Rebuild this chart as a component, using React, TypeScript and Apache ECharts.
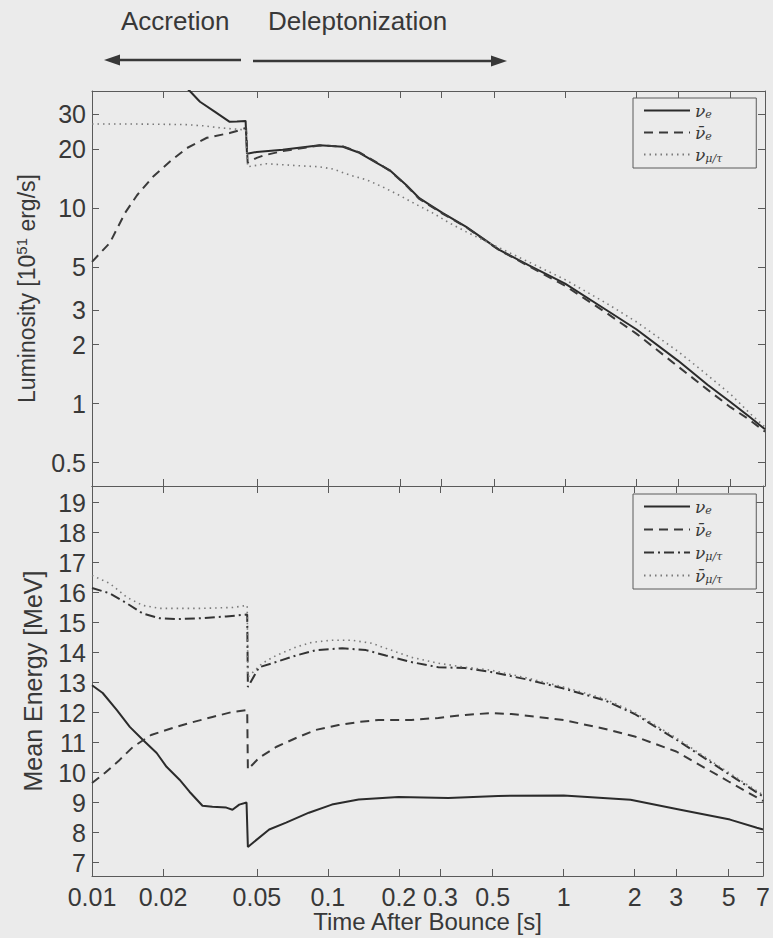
import React, { useEffect, useRef } from "react";
import * as echarts from "echarts";

// ---- axis ticks ----
const xTicks = [0.01, 0.02, 0.05, 0.1, 0.2, 0.3, 0.5, 1, 2, 3, 5, 7];
const lumTicks = [0.5, 1, 2, 3, 5, 10, 20, 30];
const energyTicks = [7, 8, 9, 10, 11, 12, 13, 14, 15, 16, 17, 18, 19];

// ---- luminosity [10^51 erg/s] vs time [s] ----
const lumNue: [number, number][] = [
  [0.0245, 42], [0.0259, 39.5], [0.0286, 34.8], [0.033, 31.0], [0.0382, 27.5], [0.041, 27.6],
  [0.0446, 27.8], [0.0452, 18.9], [0.0497, 19.3], [0.064, 19.8], [0.0916, 20.9], [0.115, 20.5],
  [0.135, 19.1], [0.159, 17.0], [0.181, 15.6], [0.213, 13.1], [0.242, 11.2], [0.27, 10.3],
  [0.303, 9.43], [0.382, 8.0], [0.527, 6.1], [0.7, 5.1], [1.0, 4.1], [1.5, 3.0], [2.0, 2.4],
  [3.0, 1.66], [4.0, 1.25], [5.0, 1.02], [6.0, 0.86], [7.0, 0.74],
];
const lumNuebar: [number, number][] = [
  [0.01, 5.3], [0.0119, 6.63], [0.0138, 9.43], [0.0155, 11.6], [0.0181, 14.4], [0.0213, 17.2],
  [0.0252, 20.2], [0.0306, 22.8], [0.0382, 24.1], [0.0415, 24.8], [0.0448, 25.6], [0.0455, 17.0],
  [0.0497, 18.0], [0.053, 18.5], [0.064, 19.5], [0.0916, 20.8], [0.115, 20.6], [0.135, 19.2],
  [0.159, 17.1], [0.181, 15.5], [0.213, 13.0], [0.242, 11.1], [0.303, 9.35], [0.382, 7.95],
  [0.527, 6.08], [0.7, 5.05], [1.0, 4.0], [1.5, 2.9], [2.0, 2.28], [3.0, 1.55], [4.0, 1.18],
  [5.0, 0.96], [6.0, 0.83], [7.0, 0.72],
];
const lumNux: [number, number][] = [
  [0.01, 26.8], [0.015, 26.8], [0.02, 26.7], [0.025, 26.6], [0.03, 26.2], [0.035, 25.6],
  [0.0446, 25.0], [0.0455, 16.2], [0.0547, 16.8], [0.0754, 16.4], [0.0916, 16.2], [0.104, 15.8],
  [0.123, 14.7], [0.145, 13.9], [0.169, 12.8], [0.199, 11.6], [0.235, 10.4], [0.275, 9.43],
  [0.324, 8.38], [0.382, 7.54], [0.527, 6.25], [0.7, 5.3], [1.0, 4.3], [1.5, 3.25], [2.0, 2.62],
  [3.0, 1.85], [4.0, 1.4], [5.0, 1.12], [6.0, 0.9], [7.0, 0.76],
];

// ---- mean energy [MeV] vs time [s] ----
const eNue: [number, number][] = [
  [0.01, 12.91], [0.0111, 12.65], [0.01275, 12.08], [0.01446, 11.52], [0.01641, 11.09],
  [0.0188, 10.65], [0.0207, 10.19], [0.0235, 9.76], [0.0259, 9.36], [0.0294, 8.89], [0.0324, 8.86],
  [0.0371, 8.83], [0.0394, 8.76], [0.0421, 8.93], [0.0452, 9.0], [0.0458, 7.52], [0.0564, 8.1],
  [0.0665, 8.33], [0.0831, 8.66], [0.104, 8.93], [0.135, 9.1], [0.199, 9.18], [0.324, 9.15],
  [0.527, 9.22], [1.0, 9.23], [1.92, 9.09], [3.12, 8.76], [5.07, 8.43], [6.59, 8.16], [7.0, 8.1],
];
const eNuebar: [number, number][] = [
  [0.01, 9.65], [0.0114, 10.0], [0.0131, 10.42], [0.0149, 10.85], [0.0178, 11.25], [0.0213, 11.45],
  [0.0259, 11.65], [0.0324, 11.85], [0.0394, 12.02], [0.0455, 12.08], [0.0458, 10.1], [0.0511, 10.49],
  [0.0603, 10.85], [0.0733, 11.15], [0.089, 11.42], [0.111, 11.58], [0.134, 11.68], [0.164, 11.75],
  [0.226, 11.75], [0.294, 11.82], [0.382, 11.92], [0.492, 11.98], [0.6, 11.95], [1.0, 11.75],
  [1.5, 11.45], [2.0, 11.2], [3.0, 10.7], [5.0, 9.7], [7.0, 9.05],
];
const eNux: [number, number][] = [
  [0.01, 16.15], [0.0119, 15.97], [0.01405, 15.64], [0.01641, 15.3], [0.01936, 15.14],
  [0.0228, 15.11], [0.0286, 15.14], [0.0371, 15.2], [0.0455, 15.27], [0.0458, 12.85],
  [0.0511, 13.51], [0.058, 13.64], [0.0733, 13.9], [0.089, 14.08], [0.115, 14.14], [0.145, 14.08],
  [0.176, 13.9], [0.226, 13.68], [0.294, 13.51], [0.382, 13.48], [0.492, 13.35], [0.7, 13.1],
  [1.0, 12.8], [1.5, 12.4], [2.0, 11.95], [3.0, 11.1], [5.0, 9.95], [7.0, 9.2],
];
const eNuxbar: [number, number][] = [
  [0.01, 16.57], [0.0119, 16.3], [0.01405, 15.84], [0.01641, 15.57], [0.01936, 15.47],
  [0.0286, 15.47], [0.0394, 15.5], [0.0455, 15.57], [0.0458, 13.18], [0.0527, 13.64],
  [0.0603, 13.9], [0.0733, 14.18], [0.0856, 14.34], [0.104, 14.41], [0.126, 14.41], [0.153, 14.31],
  [0.176, 14.14], [0.226, 13.84], [0.294, 13.64], [0.382, 13.51], [0.492, 13.41], [0.7, 13.15],
  [1.0, 12.85], [1.5, 12.45], [2.0, 12.0], [3.0, 11.15], [5.0, 10.0], [7.0, 9.25],
];

const legendLabels: Record<string, string> = {
  L_nue: "{n|ν}{s|e}",
  L_nuebar: "{n|ν̄}{s|e}",
  L_nux: "{n|ν}{s|μ/τ}",
  E_nue: "{n|ν}{s|e}",
  E_nuebar: "{n|ν̄}{s|e}",
  E_nux: "{n|ν}{s|μ/τ}",
  E_nuxbar: "{n|ν̄}{s|μ/τ}",
};

const BG = "#ebebeb";
const INK = "#383838";
const FRAME = "#5a5a5a";
const SANS = "'Liberation Sans', Arial, sans-serif";
const FS = 25;

const SOLID = { color: "#2b2b2b", width: 2, type: "solid" as any };
const DASHED = { color: "#3a3a3a", width: 2, type: [9, 6] as any };
const DOTTED = { color: "#7a7a7a", width: 1.6, type: [1.5, 4] as any };
const DASHDOT = { color: "#333333", width: 2, type: [10, 4, 2, 4] as any };

export default function App() {
  const ref = useRef<HTMLDivElement>(null);
  useEffect(() => {
    if (!ref.current) return;
    const chart = echarts.init(ref.current, null, { renderer: "svg" });

    const tickLabel = { color: INK, fontFamily: SANS, fontSize: FS };
    const richLegend = {
      n: { fontFamily: "'DejaVu Serif', serif", fontStyle: "italic", fontSize: 17, lineHeight: 17, verticalAlign: "top", color: INK },
      s: { fontFamily: "'DejaVu Serif', serif", fontStyle: "italic", fontSize: 11, lineHeight: 11, padding: [7, 0, 0, 0], verticalAlign: "top", color: INK },
    };
    const legendBase = {
      orient: "vertical",
      left: 633,
      itemWidth: 46,
      itemHeight: 12,
      padding: [4, 34, 4, 10],
      borderColor: FRAME,
      borderWidth: 1,
      backgroundColor: BG,
      selectedMode: false,
      itemStyle: { opacity: 0 },
      formatter: (name: string) => legendLabels[name] || name,
      textStyle: { rich: richLegend, color: INK },
    };

    const xCommon = (gridIndex: number, position: string, showLabel: boolean, name?: string) => ({
      type: "log",
      logBase: 10,
      gridIndex,
      position,
      min: 0.009999,
      max: 7.0001,
      axisLine: { show: true, lineStyle: { color: FRAME, width: 1 } },
      axisTick: { show: true, inside: true, length: 7, customValues: xTicks, lineStyle: { color: FRAME } },
      axisLabel: {
        show: showLabel,
        customValues: xTicks,
        margin: 8,
        formatter: (v: number) => String(+v.toPrecision(3)),
        ...tickLabel,
      },
      minorTick: { show: false },
      splitLine: { show: false },
      name: name || "",
      nameLocation: "middle",
      nameGap: 33,
      nameTextStyle: { color: INK, fontFamily: SANS, fontSize: 24 },
    });

    const option: any = {
      animation: false,
      backgroundColor: BG,
      grid: [
        { left: 92, right: 8, top: 91, height: 395, show: false },
        { left: 92, right: 8, top: 486, height: 390, show: false },
      ],
      xAxis: [
        xCommon(0, "bottom", false),
        xCommon(0, "top", false),
        xCommon(1, "bottom", true, "Time After Bounce [s]"),
        xCommon(1, "top", false),
      ],
      yAxis: [
        {
          type: "log", logBase: 10, gridIndex: 0, position: "left", min: 0.38, max: 39.5,
          axisLine: { show: true, lineStyle: { color: FRAME } },
          axisTick: { show: true, inside: true, length: 7, customValues: lumTicks, lineStyle: { color: FRAME } },
          axisLabel: { show: true, customValues: lumTicks, margin: 6, formatter: (v: number) => String(+v.toPrecision(3)), ...tickLabel },
          minorTick: { show: false }, splitLine: { show: false },
          name: "Luminosity [10{sup|51} erg/s]",
          nameLocation: "middle", nameRotate: 90, nameGap: 48,
          nameTextStyle: {
            color: INK, fontFamily: SANS, fontSize: 23, lineHeight: 26,
            rich: { sup: { fontFamily: SANS, fontSize: 15, lineHeight: 15, verticalAlign: "top", color: INK } },
          },
        },
        {
          type: "log", logBase: 10, gridIndex: 0, position: "right", min: 0.38, max: 39.5,
          axisLine: { show: true, lineStyle: { color: FRAME } },
          axisTick: { show: true, inside: true, length: 7, customValues: lumTicks, lineStyle: { color: FRAME } },
          axisLabel: { show: false, customValues: lumTicks },
          minorTick: { show: false }, splitLine: { show: false },
        },
        {
          type: "value", gridIndex: 1, position: "left", min: 6.55, max: 19.55,
          axisLine: { show: true, lineStyle: { color: FRAME } },
          axisTick: { show: true, inside: true, length: 7, customValues: energyTicks, lineStyle: { color: FRAME } },
          axisLabel: { show: true, customValues: energyTicks, margin: 6, ...tickLabel },
          splitLine: { show: false },
          name: "Mean Energy [MeV]",
          nameLocation: "middle", nameRotate: 90, nameGap: 47,
          nameTextStyle: { color: INK, fontFamily: SANS, fontSize: FS },
        },
        {
          type: "value", gridIndex: 1, position: "right", min: 6.55, max: 19.55,
          axisLine: { show: true, lineStyle: { color: FRAME } },
          axisTick: { show: true, inside: true, length: 7, customValues: energyTicks, lineStyle: { color: FRAME } },
          axisLabel: { show: false, customValues: energyTicks },
          splitLine: { show: false },
        },
      ],
      legend: [
        { ...legendBase, top: 98, itemGap: 4, data: ["L_nue", "L_nuebar", "L_nux"] },
        { ...legendBase, top: 494, itemGap: 5, data: ["E_nue", "E_nuebar", "E_nux", "E_nuxbar"] },
      ],
      series: [
        { name: "L_nue", data: lumNue, lineStyle: SOLID, xAxisIndex: 0, yAxisIndex: 0 },
        { name: "L_nuebar", data: lumNuebar, lineStyle: DASHED, xAxisIndex: 0, yAxisIndex: 0 },
        { name: "L_nux", data: lumNux, lineStyle: DOTTED, xAxisIndex: 0, yAxisIndex: 0 },
        { name: "E_nue", data: eNue, lineStyle: SOLID, xAxisIndex: 2, yAxisIndex: 2 },
        { name: "E_nuebar", data: eNuebar, lineStyle: DASHED, xAxisIndex: 2, yAxisIndex: 2 },
        { name: "E_nux", data: eNux, lineStyle: DASHDOT, xAxisIndex: 2, yAxisIndex: 2 },
        { name: "E_nuxbar", data: eNuxbar, lineStyle: DOTTED, xAxisIndex: 2, yAxisIndex: 2 },
      ].map((s) => ({
        ...s,
        type: "line",
        symbol: "none",
        showSymbol: false,
        smooth: false,
        clip: true,
        itemStyle: { color: s.lineStyle.color, opacity: 0 },
        emphasis: { disabled: true },
      })),
      graphic: [
        { type: "text", left: 121, top: 8, style: { text: "Accretion", fill: INK, font: `26px ${SANS}` } },
        { type: "text", left: 268, top: 8, style: { text: "Deleptonization", fill: INK, font: `26px ${SANS}` } },
        { type: "line", shape: { x1: 241, y1: 60, x2: 114, y2: 60 }, style: { stroke: INK, lineWidth: 2.5 } },
        { type: "polygon", shape: { points: [[104, 60], [120, 54.5], [120, 65.5]] }, style: { fill: INK } },
        { type: "line", shape: { x1: 253, y1: 61, x2: 496, y2: 61 }, style: { stroke: INK, lineWidth: 2.5 } },
        { type: "polygon", shape: { points: [[507, 61], [491, 55.5], [491, 66.5]] }, style: { fill: INK } },
      ],
    };
    chart.setOption(option);
    return () => chart.dispose();
  }, []);

  return (
    <div
      ref={ref}
      style={{ position: "fixed", left: 0, top: 0, width: 773, height: 938, background: BG }}
    />
  );
}
